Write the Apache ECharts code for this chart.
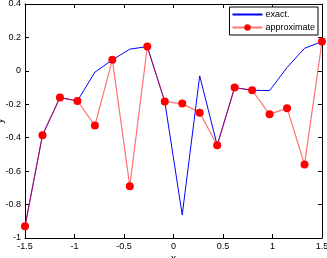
<!DOCTYPE html>
<html><head><meta charset="utf-8">
<script src="https://cdn.jsdelivr.net/npm/echarts@6/dist/echarts.min.js"></script>
<style>html,body{margin:0;padding:0;background:#fff}#c{width:327px;height:258px}</style>
</head><body><div id="c"></div>
<script>
const xValues = [-1.5,-1.3235,-1.1471,-0.9706,-0.7941,-0.6176,-0.4412,-0.2647,-0.0882,0.0882,0.2647,0.4412,0.6176,0.7941,0.9706,1.1471,1.3235,1.5];
const exactY = [-0.93,-0.385,-0.16,-0.18,-0.008,0.066,0.13,0.145,-0.184,-0.862,-0.03,-0.445,-0.10,-0.116,-0.118,0.02,0.135,0.175];
const approxY = [-0.93,-0.385,-0.16,-0.18,-0.327,0.066,-0.69,0.145,-0.184,-0.196,-0.25,-0.445,-0.10,-0.116,-0.26,-0.223,-0.56,0.175];
const seriesNames = ['exact.','approximate'];

const font = 'Liberation Sans, Arial, sans-serif';
const chart = echarts.init(document.getElementById('c'), null, {renderer:'canvas'});
const axisCommon = {
  axisLine:{show:true,onZero:false,lineStyle:{color:'#000',width:1}},
  axisTick:{show:true,inside:true,length:4,lineStyle:{color:'#000'}},
  splitLine:{show:false}
};
chart.setOption({
  animation:false,
  grid:{left:25,right:5,top:4,bottom:20,containLabel:false,outerBoundsMode:'none'},
  legend:{
    data:[{name:seriesNames[0],itemStyle:{opacity:0}},{name:seriesNames[1]}],
    orient:'vertical', right:9, top:7,
    itemWidth:30, itemHeight:8, itemGap:4,
    padding:[3,3,3,2],
    borderColor:'#000', borderWidth:1, backgroundColor:'#fff',
    textStyle:{fontFamily:font,fontSize:9,color:'#000',padding:[0,0,0,-2]}
  },
  xAxis:[
    Object.assign({type:'value',min:-1.5,max:1.5,interval:0.5,
      name:'x',nameLocation:'middle',nameGap:16,nameMoveOverlap:false,nameTextStyle:{fontFamily:font,fontSize:10,color:'#000'},
      axisLabel:{fontFamily:font,fontSize:9,color:'#000',margin:4}},axisCommon),
    Object.assign({type:'value',min:-1.5,max:1.5,interval:0.5,position:'top',axisLabel:{show:false}},axisCommon)
  ],
  yAxis:[
    Object.assign({type:'value',min:-1,max:0.4,interval:0.2,
      name:'y',nameLocation:'middle',nameGap:20,nameMoveOverlap:false,nameTextStyle:{fontFamily:font,fontSize:10,color:'#000'},
      axisLabel:{fontFamily:font,fontSize:9,color:'#000',margin:4}},axisCommon),
    Object.assign({type:'value',min:-1,max:0.4,interval:0.2,position:'right',axisLabel:{show:false}},axisCommon)
  ],
  series:[
    {name:seriesNames[0],type:'line',symbol:'none',
     data:xValues.map((x,i)=>[x,exactY[i]]),
     lineStyle:{color:'#0000ff',width:1},itemStyle:{color:'#0000ff'},z:2},
    {name:seriesNames[1],type:'line',symbol:'circle',symbolSize:8,
     data:xValues.map((x,i)=>[x,approxY[i]]),
     lineStyle:{color:'#ff0000',width:1.2,opacity:0.55},itemStyle:{color:'#ff0000'},z:3}
  ]
});
</script></body></html>
